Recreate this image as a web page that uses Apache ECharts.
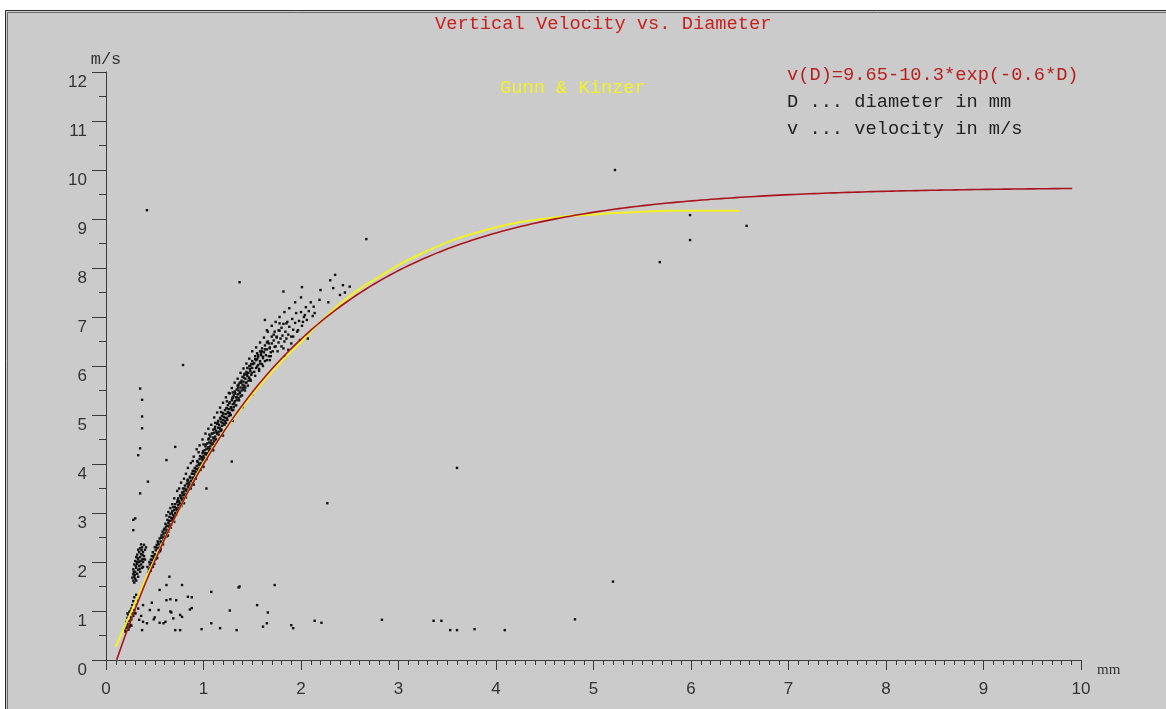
<!DOCTYPE html>
<html>
<head>
<meta charset="utf-8">
<title>Vertical Velocity vs. Diameter</title>
<script src="https://cdn.jsdelivr.net/npm/echarts@6/dist/echarts.min.js"></script>
<style>
  html, body { margin: 0; padding: 0; background: #ffffff; }
  #chart { width: 1166px; height: 709px; }
</style>
</head>
<body>
<div id="chart"></div>
<script>
// Axis ranges and tick labels
const xTicks = [0, 1, 2, 3, 4, 5, 6, 7, 8, 9, 10];
const yTicks = [0, 1, 2, 3, 4, 5, 6, 7, 8, 9, 10, 11, 12];

// Fitted terminal-velocity model: v(D) = a - b * exp(-c * D)
const fitCoeffs = [9.65, 10.3, 0.6];
const fitRange = [0.11, 9.95];

// Gunn & Kinzer reference measurements (diameter in mm, velocity in m/s)
const gkDiameter = [0.1, 0.2, 0.3, 0.4, 0.5, 0.6, 0.7, 0.8, 0.9, 1.0, 1.2, 1.4, 1.6, 1.8, 2.0, 2.2, 2.4, 2.6, 2.8, 3.0, 3.2, 3.4, 3.6, 3.8, 4.0, 4.2, 4.4, 4.6, 4.8, 5.0, 5.2, 5.4, 5.6, 5.8, 6.0, 6.5];
const gkVelocity = [0.27, 0.72, 1.17, 1.62, 2.06, 2.47, 2.87, 3.27, 3.67, 4.03, 4.64, 5.17, 5.65, 6.09, 6.49, 6.90, 7.27, 7.57, 7.82, 8.06, 8.26, 8.44, 8.60, 8.72, 8.83, 8.92, 8.98, 9.03, 9.07, 9.09, 9.12, 9.14, 9.16, 9.17, 9.17, 9.17];

// Measured drops [diameter mm, velocity m/s]: small drops near the origin
const smallDrops = [
  [0.19,0.62],[0.2,0.7],[0.21,0.66],[0.21,0.78],[0.22,0.74],[0.22,0.86],[0.23,0.69],[0.23,0.92],[0.24,0.8],[0.24,0.98],
  [0.25,0.72],[0.25,0.88],[0.26,1.05],[0.26,0.83],[0.27,0.95],[0.27,1.12],[0.28,0.9],[0.28,1.2],[0.29,1.02],[0.29,1.28],
  [0.3,1.14],[0.3,0.96],[0.31,1.33],[0.32,1.22],[0.2,0.58],[0.23,0.62],[0.24,0.67],[0.26,0.7],[0.22,0.95],[0.25,1.0],
  [0.27,1.68],[0.28,1.75],[0.28,1.85],[0.29,1.7],[0.29,1.95],[0.3,1.8],[0.3,2.02],[0.3,1.66],[0.31,1.88],[0.31,2.1],
  [0.32,1.76],[0.32,1.96],[0.32,2.15],[0.33,1.84],[0.33,2.05],[0.33,1.7],[0.34,1.92],[0.34,2.2],[0.34,2.0],[0.35,1.8],
  [0.35,2.1],[0.35,2.28],[0.36,1.95],[0.36,2.16],[0.37,2.05],[0.37,2.3],[0.37,1.88],[0.38,2.2],[0.38,2.0],[0.39,2.12],
  [0.39,2.35],[0.4,2.25],[0.4,2.05],[0.41,2.3],[0.31,1.62],[0.29,1.58],[0.36,2.36],[0.33,2.25],[0.28,1.62],[0.38,1.9],
  [0.285,1.8],[0.305,1.92],[0.325,2.08],[0.345,1.86],[0.365,2.24],[0.385,2.06],[0.295,1.74],[0.315,2.0],[0.355,2.02],[0.375,2.14]
];

// Measured drops: main band along the curve
const bandDrops = [
  [0.44,1.85],[0.45,1.95],[0.46,1.82],[0.46,2.05],[0.47,1.98],[0.47,2.12],[0.48,1.9],[0.48,2.2],[0.49,2.08],[0.49,2.0],
  [0.5,2.16],[0.5,2.3],[0.51,2.06],[0.51,2.24],[0.52,2.35],[0.52,2.14],[0.53,2.28],[0.53,2.42],[0.54,2.2],[0.54,2.36],
  [0.55,2.48],[0.55,2.3],[0.56,2.42],[0.56,2.26],[0.57,2.55],[0.57,2.4],[0.58,2.5],[0.58,2.62],[0.59,2.45],[0.59,2.58],
  [0.6,2.68],[0.6,2.52],[0.61,2.6],[0.61,2.78],[0.62,2.66],[0.62,2.52],[0.63,2.74],[0.63,2.86],[0.64,2.62],[0.64,2.8],
  [0.65,2.92],[0.65,2.72],[0.66,2.84],[0.66,2.98],[0.67,2.76],[0.67,2.9],[0.68,3.04],[0.68,2.86],[0.69,2.96],[0.69,3.12],
  [0.7,2.92],[0.7,3.06],[0.71,3.18],[0.71,3.0],[0.72,3.1],[0.72,2.96],[0.73,3.22],[0.73,3.06],[0.74,3.16],[0.74,3.3],
  [0.75,3.1],[0.75,3.24],[0.76,3.36],[0.76,3.18],[0.77,3.3],[0.77,3.14],[0.78,3.42],[0.78,3.26],[0.79,3.36],[0.79,3.5],
  [0.8,3.3],[0.8,3.44],[0.81,3.56],[0.81,3.38],[0.82,3.48],[0.82,3.32],[0.83,3.6],[0.83,3.44],[0.84,3.54],[0.84,3.68],
  [0.85,3.48],[0.85,3.62],[0.86,3.74],[0.86,3.56],[0.87,3.66],[0.87,3.5],[0.88,3.8],[0.88,3.62],[0.89,3.72],[0.89,3.86],
  [0.9,3.66],[0.9,3.8],[0.91,3.92],[0.91,3.74],[0.92,3.84],[0.92,3.7],[0.93,3.96],[0.93,3.8],[0.94,3.9],[0.94,4.04],
  [0.95,3.86],[0.95,3.98],[0.96,4.1],[0.96,3.92],[0.97,4.02],[0.97,3.88],[0.98,4.14],[0.98,3.98],[0.99,4.08],[0.99,4.22],
  [1.0,4.04],[1.0,4.16],[1.01,4.28],[1.01,4.12],[1.02,4.2],[1.02,4.36],[1.03,4.1],[1.03,4.3],[1.04,4.42],[1.04,4.22],
  [1.05,4.34],[1.05,4.5],[1.06,4.26],[1.06,4.44],[1.07,4.56],[1.07,4.36],[1.08,4.48],[1.08,4.3],[1.09,4.62],[1.09,4.42],
  [1.1,4.54],[1.1,4.7],[1.11,4.46],[1.11,4.64],[1.12,4.76],[1.12,4.56],[1.13,4.68],[1.13,4.5],[1.14,4.82],[1.14,4.62],
  [1.15,4.74],[1.15,4.88],[1.16,4.66],[1.16,4.8],[1.17,4.94],[1.17,4.72],[1.18,4.86],[1.18,4.68],[1.19,4.98],[1.19,4.78],
  [1.2,4.9],[1.2,5.04],[1.21,4.82],[1.21,4.96],[1.22,5.1],[1.22,4.88],[1.23,5.02],[1.23,4.84],[1.24,5.14],[1.24,4.94],
  [1.25,5.06],[1.25,5.2],[1.26,4.98],[1.26,5.12],[1.27,5.26],[1.27,5.04],[1.28,5.16],[1.28,5.0],[1.29,5.3],[1.29,5.1],
  [1.3,5.22],[1.3,5.36],[1.31,5.16],[1.31,5.4],[1.32,5.28],[1.32,5.48],[1.33,5.2],[1.33,5.36],[1.34,5.52],[1.34,5.3],
  [1.35,5.42],[1.35,5.6],[1.36,5.34],[1.36,5.5],[1.37,5.66],[1.37,5.44],[1.38,5.56],[1.38,5.38],[1.39,5.7],[1.39,5.5],
  [1.4,5.62],[1.4,5.78],[1.41,5.52],[1.41,5.68],[1.42,5.84],[1.42,5.6],[1.43,5.74],[1.43,5.56],[1.44,5.88],[1.44,5.66],
  [1.45,5.8],[1.45,5.96],[1.46,5.7],[1.46,5.86],[1.47,6.0],[1.47,5.76],[1.48,5.9],[1.48,5.72],[1.49,6.04],[1.49,5.82],
  [1.5,5.96],[1.5,6.1],[1.52,5.88],[1.52,6.06],[1.53,6.2],[1.54,5.96],[1.54,6.12],[1.55,6.26],[1.56,6.02],[1.56,6.18],
  [1.57,5.94],[1.58,6.3],[1.58,6.1],[1.59,6.22],[1.6,6.36],[1.6,6.04],[1.61,6.16],[1.62,6.28],[1.63,6.42],[1.63,6.1],
  [1.64,6.22],[1.65,6.34],[1.66,6.5],[1.67,6.2],[1.68,6.38],[1.69,6.28],[1.7,6.46],[1.7,6.6],[1.71,6.3],[1.72,6.52],
  [1.73,6.7],[1.74,6.4],[1.75,6.58],[1.76,6.3],[1.77,6.48],[1.78,6.72],[1.79,6.56],[1.8,6.4],[1.81,6.62],[1.82,6.86],
  [1.83,6.5],[1.84,6.7],[1.85,6.56],[1.86,6.9],[1.87,6.64],[1.88,6.8],[1.9,6.6],[1.91,6.96],[1.92,6.74],[1.94,6.88],
  [1.95,7.08],[1.96,6.7],[1.98,6.92],[2.0,7.1],[2.01,6.82],[2.03,7.0],[2.05,7.2],[2.06,6.94],[2.08,7.12],[2.1,7.3],
  [2.12,7.02],[2.04,7.04],[2.02,6.9],[1.97,6.73],[1.92,6.6],[1.9,6.46],[1.85,6.87],[1.78,6.87],[1.77,6.73],[1.75,6.6],
  [1.73,6.39],[1.68,6.36],[1.63,6.94],[1.65,6.73],[1.61,6.19],[1.58,6.05],[1.55,5.99],[2.07,6.56],[1.99,6.53],[1.87,6.33],
  [1.84,6.19],[1.82,6.36],[1.68,6.12],[2.19,7.35],[2.13,7.21],[2.14,7.08],[2.35,7.86],[2.43,7.65],[2.4,7.45],[2.33,7.59],
  [1.82,7.52],[2.01,7.61],[2.2,7.55],[2.28,7.3],[2.45,7.5],[2.5,7.62],[2.3,7.75]
];

// Measured drops: second pass through the band (interleaved diameters)
const bandDropsFine = [
  [0.505,2.14],[0.515,2.3],[0.525,2.08],[0.535,2.4],[0.545,2.28],[0.555,2.22],[0.565,2.5],[0.575,2.38],[0.585,2.36],[0.595,2.66],
  [0.605,2.5],[0.615,2.72],[0.625,2.6],[0.635,2.54],[0.645,2.84],[0.655,2.76],[0.665,2.7],[0.675,3.0],[0.685,2.9],[0.695,2.84],
  [0.705,3.12],[0.715,2.98],[0.725,3.06],[0.735,3.26],[0.745,3.1],[0.755,3.2],[0.765,3.34],[0.775,3.16],[0.785,3.4],[0.795,3.3],
  [0.805,3.5],[0.815,3.36],[0.825,3.46],[0.835,3.66],[0.845,3.52],[0.855,3.58],[0.865,3.72],[0.875,3.56],[0.885,3.8],[0.895,3.7],
  [0.905,3.86],[0.915,3.76],[0.925,3.9],[0.935,4.06],[0.945,3.86],[0.955,4.0],[0.965,4.16],[0.975,3.96],[0.985,4.12],[0.995,4.26],
  [1.005,4.08],[1.015,4.22],[1.025,4.4],[1.035,4.18],[1.045,4.32],[1.055,4.52],[1.065,4.3],[1.075,4.42],[1.085,4.62],[1.095,4.4],
  [1.105,4.52],[1.115,4.72],[1.125,4.5],[1.135,4.64],[1.145,4.84],[1.155,4.6],[1.165,4.74],[1.175,4.92],[1.185,4.7],[1.195,4.84],
  [1.205,5.02],[1.215,4.8],[1.225,4.94],[1.235,5.14],[1.245,4.9],[1.255,5.04],[1.265,5.24],[1.275,5.0],[1.285,5.14],[1.295,5.34],
  [1.305,5.1],[1.315,5.24],[1.325,5.44],[1.335,5.2],[1.345,5.36],[1.355,5.56],[1.365,5.3],[1.375,5.46],[1.385,5.66],[1.395,5.4],
  [1.405,5.56],[1.415,5.76],[1.425,5.5],[1.435,5.66],[1.445,5.84],[1.455,5.6],[1.465,5.76],[1.475,5.94],[1.485,5.7],[1.495,5.86],
  [1.51,6.04],[1.53,5.8],[1.55,6.14],[1.57,5.9],[1.59,6.26],[1.61,6.0],[1.63,6.34],[1.65,6.12],[1.67,6.46],[1.69,6.2],
  [0.465,1.9],[0.475,2.04],[0.485,2.12],[0.495,1.96],[0.455,1.88],[0.435,1.78],[0.425,1.9],[0.445,2.0]
];

// Measured drops: faster readings along the upper edge of the band and just under the curve
const bandFringe = [
  [0.62,2.95],[0.66,3.1],[0.7,3.3],[0.73,3.45],[0.77,3.62],[0.8,3.7],[0.84,3.92],[0.87,4.02],[0.9,4.15],[0.93,4.3],
  [0.96,4.38],[0.99,4.5],[1.02,4.62],[1.05,4.72],[1.08,4.8],[1.11,4.95],[1.14,5.05],[1.17,5.15],[1.2,5.25],[1.23,5.36],
  [1.26,5.45],[1.29,5.55],[1.32,5.66],[1.35,5.74],[1.38,5.86],[1.41,5.95],[1.44,6.05],[1.47,6.15],[1.5,6.3],[1.54,6.38],
  [1.58,6.48],[1.62,6.58],[1.66,6.7],[1.7,6.82],[1.74,6.9],[1.78,7.0],[1.83,7.1],[1.88,7.18],[1.94,7.3],[2.0,7.4],
  [0.64,3.02],[0.68,3.18],[0.75,3.5],[0.82,3.8],[0.89,4.06],[0.95,4.24],[1.0,4.4],[1.06,4.6],[1.12,4.84],[1.18,5.06],
  [1.24,5.28],[1.3,5.46],[1.36,5.62],[1.42,5.82],[1.48,6.0],[1.53,6.14],[1.6,6.3],[1.65,6.48],[1.72,6.64],[1.8,6.78],
  [0.7,2.82],[0.8,3.2],[0.9,3.58],[1.0,3.94],[1.1,4.28],[1.2,4.58],[1.3,4.88],[1.4,5.16],[1.5,5.42]
];

// Measured drops: scattered slow and off-curve readings
const strayDrops = [
  [0.65,1.7],[0.78,1.53],[0.62,1.53],[0.55,1.43],[0.88,1.28],[0.66,1.24],[0.62,1.22],[0.47,1.17],[0.38,1.12],[0.45,1.02],
  [0.54,1.02],[0.66,0.99],[0.67,0.97],[0.76,0.92],[0.69,0.85],[0.5,0.87],[0.49,0.83],[0.61,0.78],[0.55,0.76],[0.42,0.75],
  [0.37,0.61],[0.38,0.78],[0.71,0.61],[0.76,0.61],[0.86,1.03],[1.08,1.39],[1.36,1.48],[1.73,1.53],[1.27,1.01],[1.55,1.12],
  [1.66,0.97],[1.65,0.75],[1.9,0.71],[1.92,0.65],[2.14,0.8],[2.21,0.76],[0.98,0.63],[1.17,0.65],[1.34,0.61],[1.61,0.68],
  [1.08,0.75],[2.83,0.82],[3.36,0.8],[3.44,0.8],[3.53,0.61],[3.6,0.61],[3.78,0.63],[4.09,0.61],[4.81,0.83],[5.2,1.6],
  [0.72,1.22],[0.84,1.29],[0.88,1.06],[0.78,0.88],[0.59,0.75],[0.3,0.95],[0.33,1.05],[0.36,0.9],[0.34,0.82],
  [0.42,9.18],[3.6,3.92],[2.27,3.2],[1.37,7.71],[5.22,10.0],[5.99,9.08],[5.99,8.57],[5.68,8.12],[6.57,8.86],[2.67,8.59],
  [0.35,5.54],[0.37,5.31],[0.37,4.97],[0.37,4.73],[0.35,4.32],[0.33,4.18],[0.43,3.64],[0.35,3.4],[0.3,2.89],[0.28,2.65],
  [0.79,6.02],[0.71,4.35],[1.29,4.05],[1.03,3.5],[1.37,1.5],[0.62,4.08],[1.27,5.44],[1.56,6.22],[0.28,2.86]
];

// Text lines
const titleText = 'Vertical Velocity vs. Diameter';
const refLabel = 'Gunn & Kinzer';
const noteLines = ['v(D)=9.65-10.3*exp(-0.6*D)', 'D ... diameter in mm', 'v ... velocity in m/s'];
const xUnit = 'mm';
const yUnit = 'm/s';

// Build series data
const gkSeries = gkDiameter.map((d, i) => [d, gkVelocity[i]]);
const fitSeries = [];
for (let d = fitRange[0]; d <= fitRange[1] + 1e-9; d += 0.05) {
  fitSeries.push([d, fitCoeffs[0] - fitCoeffs[1] * Math.exp(-fitCoeffs[2] * d)]);
}
const observed = smallDrops.concat(bandDrops, bandDropsFine, bandFringe, strayDrops);

const MONO = '"Liberation Mono", "Courier New", monospace';
const AXIS_FONT = '"Liberation Sans Narrow", "Liberation Sans", Arial, sans-serif';
const axisColor = '#3a3a3a';

const chart = echarts.init(document.getElementById('chart'), null, { renderer: 'canvas' });
chart.setOption({
  animation: false,
  backgroundColor: '#ffffff',
  grid: { left: 106, right: 85, top: 72, bottom: 49, containLabel: false, outerBoundsMode: 'none' },
  graphic: [
    { type: 'rect', z: -10, shape: { x: 5.5, y: 10.5, width: 1200, height: 720 },
      style: { fill: '#cbcbcb', stroke: '#2a2a2a', lineWidth: 1 } },
    { type: 'rect', z: -9, shape: { x: 7.5, y: 12.5, width: 1200, height: 720 },
      style: { fill: 'none', stroke: '#6a6a6a', lineWidth: 1 } },
    { type: 'text', style: { text: titleText, x: 435, y: 24, fill: '#c8201e', font: '18.7px ' + MONO, align: 'left', verticalAlign: 'middle' } },
    { type: 'text', style: { text: refLabel, x: 500, y: 88, fill: '#f2f224', font: '18.7px ' + MONO, align: 'left', verticalAlign: 'middle' } },
    { type: 'text', style: { text: noteLines[0], x: 787, y: 75, fill: '#b8201e', font: '18.7px ' + MONO, align: 'left', verticalAlign: 'middle' } },
    { type: 'text', style: { text: noteLines[1], x: 787, y: 102, fill: '#222222', font: '18.7px ' + MONO, align: 'left', verticalAlign: 'middle' } },
    { type: 'text', style: { text: noteLines[2], x: 787, y: 129, fill: '#222222', font: '18.7px ' + MONO, align: 'left', verticalAlign: 'middle' } }
  ],
  xAxis: {
    type: 'value',
    min: xTicks[0], max: xTicks[xTicks.length - 1], interval: 1,
    name: xUnit, nameLocation: 'end', nameGap: 16,
    nameTextStyle: { color: '#333333', fontFamily: '"Liberation Serif", serif', fontSize: 15, verticalAlign: 'top', lineHeight: 15, padding: [3, 0, 0, 0] },
    axisLine: { show: true, onZero: false, lineStyle: { color: axisColor, width: 1 } },
    axisTick: { show: true, length: 10, lineStyle: { color: axisColor, width: 1 } },
    minorTick: { show: true, splitNumber: 10, length: 5, lineStyle: { color: axisColor, width: 1 } },
    splitLine: { show: false },
    axisLabel: { margin: 21, color: '#333333', fontFamily: AXIS_FONT, fontSize: 17,
      formatter: v => (xTicks.indexOf(v) >= 0 ? String(v) : '') }
  },
  yAxis: {
    type: 'value',
    min: yTicks[0], max: yTicks[yTicks.length - 1], interval: 1,
    name: yUnit, nameLocation: 'end', nameGap: 4,
    nameTextStyle: { color: '#333333', fontFamily: MONO, fontSize: 17, align: 'center' },
    axisLine: { show: true, onZero: false, lineStyle: { color: axisColor, width: 1 } },
    axisTick: { show: true, length: 14, lineStyle: { color: axisColor, width: 1 } },
    minorTick: { show: true, splitNumber: 2, length: 7, lineStyle: { color: axisColor, width: 1 } },
    splitLine: { show: false },
    axisLabel: { margin: 19, color: '#333333', fontFamily: AXIS_FONT, fontSize: 17,
      verticalAlign: 'top', padding: [2, 0, 0, 0],
      formatter: v => (yTicks.indexOf(v) >= 0 ? String(v) : '') }
  },
  series: [
    {
      name: 'drops', type: 'scatter', data: observed,
      symbol: 'rect', symbolSize: 2.4,
      itemStyle: { color: '#101010', opacity: 1 },
      z: 2, silent: true
    },
    {
      name: refLabel, type: 'line', data: gkSeries,
      showSymbol: false, smooth: 0.3,
      lineStyle: { color: '#f2f224', width: 2 },
      z: 3, silent: true
    },
    {
      name: 'fit', type: 'line', data: fitSeries,
      showSymbol: false, smooth: false,
      lineStyle: { color: '#a8141e', width: 1.6 },
      z: 4, silent: true
    }
  ]
});
</script>
</body>
</html>
